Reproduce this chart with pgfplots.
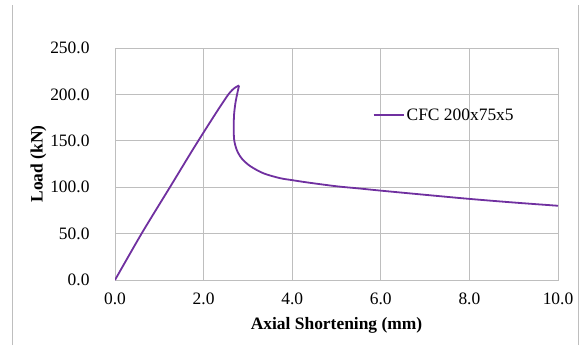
\documentclass[border=0pt]{standalone}
\usepackage{pgfplots}
\pgfplotsset{compat=1.18}
\usepackage{fontspec}
\setmainfont{Liberation Serif}
\definecolor{lineP}{RGB}{112,48,160}
\definecolor{gridG}{RGB}{190,190,190}
\begin{document}
\begin{tikzpicture}[x=1bp,y=1bp]
\useasboundingbox (0,0) rectangle (585,345);
\fill[white] (0,0) rectangle (585,345);
\draw[gridG, line width=0.8bp] (12,0) -- (12,340);
\draw[gridG, line width=0.8bp] (578,0) -- (578,340);
\begin{axis}[
  at={(115bp,65bp)}, anchor=south west,
  scale only axis, width=443bp, height=232bp,
  xmin=0, xmax=10, ymin=0, ymax=250,
  xtick={0,2,...,10}, ytick={0,50,...,250},
  grid=major, major grid style={gridG, line width=0.8bp},
  axis line style={gridG, line width=0.8bp},
  tick style={draw=none},
  /pgf/number format/assume math mode=true,
  /pgf/number format/.cd, fixed, fixed zerofill, precision=1, /pgfplots/.cd,
  ticklabel style={font=\fontsize{17.5}{20}\selectfont},
  xticklabel style={yshift=-9bp},
  yticklabel style={xshift=-22bp},
  xlabel={\textbf{Axial Shortening (mm)}},
  ylabel={\textbf{Load (kN)}},
  label style={font=\fontsize{17.5}{20}\selectfont},
  xlabel style={yshift=-6bp},
  ylabel style={yshift=-3bp},
  legend style={draw=none, fill=none, at={(0.582,0.711)}, anchor=west, font=\fontsize{17.5}{20}\selectfont, inner sep=0pt, outer sep=0pt},
  legend cell align=left,
  legend image code/.code={\draw[#1] (0bp,0bp) -- (30bp,0bp);},
]
\addplot[lineP, line width=1.8bp, smooth, tension=0.5] coordinates {
(0,0) (0.60,50) (1.24,100) (1.88,150) (2.56,200) (2.80,209.5)
};
\addlegendentry{CFC 200x75x5}
\addplot[lineP, line width=1.8bp, smooth, tension=0.5, forget plot] coordinates {
(2.80,209.5) (2.73,194) (2.69,179.7) (2.68,165) (2.69,151) (2.75,140) (2.86,131) (3.05,122.8) (3.35,115) (3.72,109.8) (4.0,107.6) (4.36,105) (5.0,101) (5.5,98.7) (6.0,96.3) (7.0,91.8) (8.0,87.4) (9.0,83.5) (10.0,80)
};
\end{axis}
\end{tikzpicture}
\end{document}
